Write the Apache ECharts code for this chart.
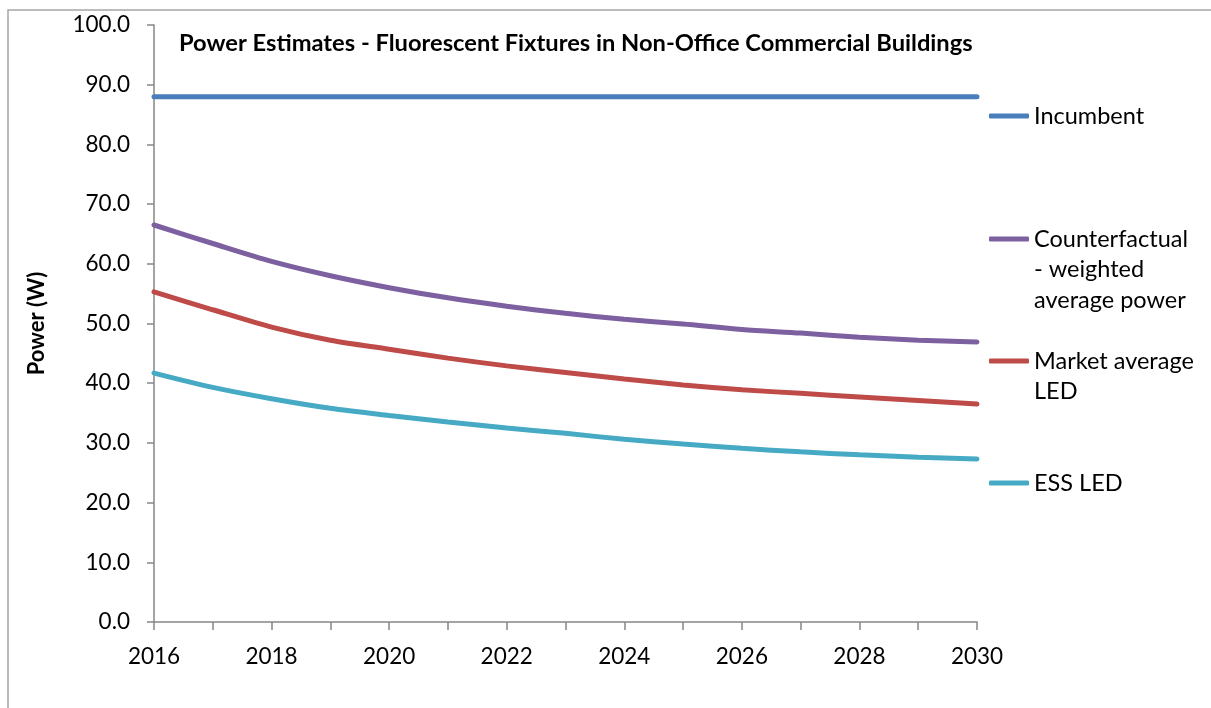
<!DOCTYPE html>
<html>
<head>
<meta charset="utf-8">
<script src="https://cdn.jsdelivr.net/npm/echarts@6/dist/echarts.min.js"></script>
<style>html,body{margin:0;padding:0;background:#fff}#c{width:1211px;height:708px}</style>
</head>
<body>
<div id="c"></div>
<script>
var years = ['2016','2017','2018','2019','2020','2021','2022','2023','2024','2025','2026','2027','2028','2029','2030'];
var seriesNames = ['Incumbent', 'Counterfactual - weighted average power', 'Market average LED', 'ESS LED'];
var incumbent = [88.0, 88.0, 88.0, 88.0, 88.0, 88.0, 88.0, 88.0, 88.0, 88.0, 88.0, 88.0, 88.0, 88.0, 88.0];
var counterfactual = [66.5, 63.4, 60.4, 58.0, 56.0, 54.3, 52.9, 51.7, 50.7, 49.9, 49.0, 48.4, 47.7, 47.2, 46.9];
var marketLED = [55.3, 52.3, 49.4, 47.2, 45.7, 44.2, 42.9, 41.8, 40.7, 39.7, 38.9, 38.3, 37.7, 37.1, 36.5];
var essLED = [41.7, 39.3, 37.4, 35.8, 34.6, 33.5, 32.5, 31.6, 30.6, 29.8, 29.1, 28.5, 28.0, 27.6, 27.3];
var titleText = 'Power Estimates - Fluorescent Fixtures in Non-Office Commercial Buildings';
var yAxisTitle = 'Power (W)';
var legendLabels = [['Incumbent'], ['Counterfactual', '- weighted', 'average power'], ['Market average', 'LED'], ['ESS LED']];

var colors = ['#4A7EBB', '#7D60A0', '#BE4B48', '#46AAC5'];
var FONT = 'Lato';
var legendCenters = [116, 239, 361, 483];
var lineStep = 30.5;
var LFS = 23.5;

var chart = echarts.init(document.getElementById('c'));
var allData = [incumbent, counterfactual, marketLED, essLED];

var series = seriesNames.map(function (n, i) {
  return {
    name: n, type: 'line', data: allData[i], smooth: 0.3, symbol: 'none',
    lineStyle: { color: colors[i], width: 5, cap: 'round' },
    itemStyle: { color: colors[i] }
  };
});

var legends = seriesNames.map(function (n, i) {
  return {
    data: [n], orient: 'vertical', left: 989, top: legendCenters[i] - 13, padding: 0,
    icon: 'roundRect', itemWidth: 40, itemHeight: 5,
    formatter: function () { return legendLabels[i][0]; },
    textStyle: { fontFamily: FONT, fontSize: LFS, color: '#000', lineHeight: 26 },
    selectedMode: false
  };
});

var graphics = [{
  type: 'rect', shape: { x: 8, y: 10, width: 1400, height: 900 },
  style: { fill: 'none', stroke: '#A6A6A6', lineWidth: 1.5 }, silent: true, z: -1
}];
legendLabels.forEach(function (lines, i) {
  for (var k = 1; k < lines.length; k++) {
    graphics.push({
      type: 'text', left: 1034, top: legendCenters[i] + k * lineStep - 13,
      style: { text: lines[k], fontFamily: FONT, fontSize: LFS, fill: '#000', lineHeight: 26 }
    });
  }
});

chart.setOption({
  animation: false,
  color: colors,
  title: {
    text: titleText, left: 179, top: 31, padding: 0,
    textStyle: { fontFamily: FONT, fontSize: 23.7, fontWeight: 'bold', color: '#000' }
  },
  legend: legends,
  graphic: graphics,
  grid: { left: 154, right: 234, top: 25, bottom: 86, containLabel: false },
  xAxis: {
    type: 'category', data: years, boundaryGap: false,
    axisLine: { lineStyle: { color: '#868686', width: 1.5 } },
    axisTick: { show: true, interval: 0, length: 8, lineStyle: { color: '#868686', width: 1.5 } },
    axisLabel: { interval: 1, margin: 23, fontFamily: FONT, fontSize: 22.5, color: '#000' },
    splitLine: { show: false }
  },
  yAxis: {
    type: 'value', min: 0, max: 100, interval: 10,
    name: yAxisTitle, nameLocation: 'middle', nameGap: 106, nameRotate: 90,
    nameTextStyle: { fontFamily: FONT, fontSize: 22, fontWeight: 'bold', color: '#000' },
    axisLine: { show: true, lineStyle: { color: '#868686', width: 1.5 } },
    axisTick: { show: true, length: 7, lineStyle: { color: '#868686', width: 1.5 } },
    axisLabel: { margin: 24, fontFamily: FONT, fontSize: 22.5, color: '#000', formatter: function (v) { return v.toFixed(1); } },
    splitLine: { show: false }
  },
  series: series
});
</script>
</body>
</html>
